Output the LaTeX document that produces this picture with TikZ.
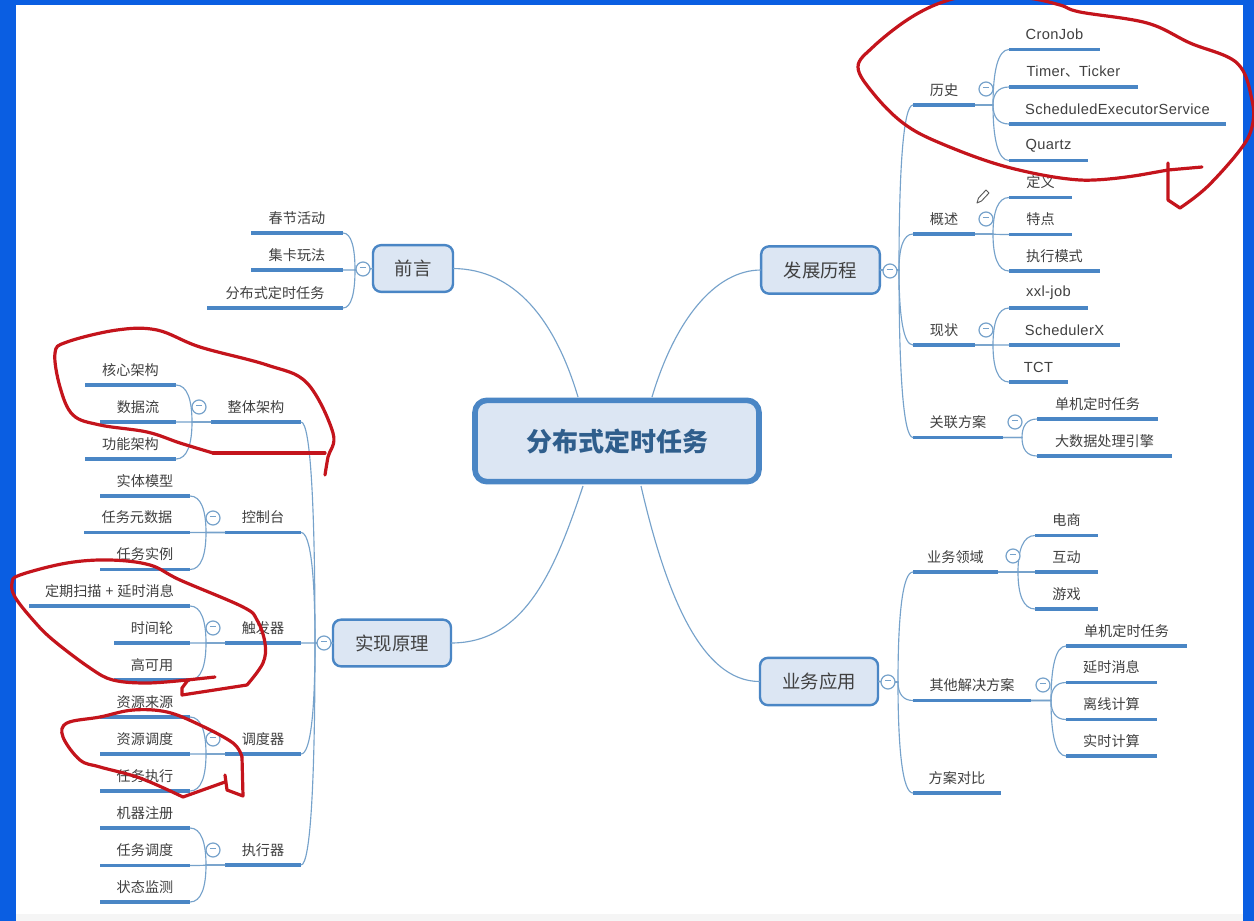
\documentclass[tikz,border=0pt]{standalone}
\usepackage{fontspec}
\setmainfont{Liberation Sans}
\newfontfamily\cjk{Noto Sans CJK SC}
\newfontfamily\latn[LetterSpace=2.5]{Liberation Sans}
\usetikzlibrary{calc}
\definecolor{frameblue}{HTML}{0A5EE2}
\definecolor{lineblue}{HTML}{4A86C5}
\definecolor{connblue}{HTML}{76A2CB}
\definecolor{boxfill}{HTML}{DCE6F3}
\definecolor{txtgray}{HTML}{404040}
\definecolor{titleblue}{HTML}{2F5E8C}
\definecolor{penred}{HTML}{C4141C}
\tikzset{
  x=0.75pt,y=-0.75pt,
  leafnode/.style={inner sep=0pt,outer sep=0pt,minimum height=22.5pt,text=txtgray,font=\fontsize{10.6}{12}\selectfont\cjk},
  uline/.style={draw=lineblue,line width=2.4pt},
  conn/.style={draw=connblue,line width=0.85pt},
  topicbox/.style={draw=lineblue,line width=1.8pt,fill=boxfill,rounded corners=6pt,inner sep=0pt,outer sep=0pt,text=txtgray,font=\fontsize{13.8}{15}\selectfont\cjk},
  rootbox/.style={draw=lineblue,line width=4.2pt,fill=boxfill,rounded corners=9pt,inner sep=0pt,outer sep=0pt,text=titleblue,font=\fontsize{19.5}{22}\selectfont\cjk\bfseries},
  collapse/.style={circle,draw=connblue,line width=0.9pt,fill=white,minimum size=10.5pt,inner sep=0pt,outer sep=0pt},
  penstroke/.style={draw=penred,line width=2.4pt,line join=round,line cap=round},
}
\newcommand\lt[1]{{\fontsize{11}{12}\selectfont\latn #1}}
\newcommand\leaf[5]{%
  \node[leafnode,anchor=south,minimum width={(#3-#2)*0.75pt}] (#1) at ({(#2+#3)/2},#4) {#5\hspace{2.25pt}};
  \draw[uline] (#1.south west) -- (#1.south east);}
\newcommand\fork[3]{\draw[conn] (#1) -- (#2) .. controls ($(#2)!0.6!(#2|-#3)$) and ($(#2|-#3)!0.3!(#3)$) .. (#3);}
\newcommand\minusmark{\textcolor{connblue}{\rule[1.9pt]{4.8pt}{0.75pt}}}
\begin{document}
\begin{tikzpicture}
\useasboundingbox (0,0) rectangle (1254,921);
\fill[white] (0,0) rectangle (1254,921);
\fill[black!4] (0,914) rectangle (1254,921);
\fill[frameblue] (0,0) rectangle (1254,5);
\fill[frameblue] (0,0) rectangle (16,921);
\fill[frameblue] (1243,0) rectangle (1254,921);

% topic boxes
\node[rootbox,minimum width=213pt,minimum height=61pt] (root) at (617,441) {分布式定时任务};
\node[topicbox,minimum width=89pt,minimum height=35.5pt] (fazhan) at (820.5,270) {发展历程};
\node[topicbox,minimum width=88.5pt,minimum height=35.5pt] (yewu) at (819,681.5) {业务应用};
\node[topicbox,minimum width=60pt,minimum height=35pt] (qianyan) at (413,268.5) {前言};
\node[topicbox,minimum width=88.5pt,minimum height=35pt] (shixian) at (392,643) {实现原理};

% main connectors
\coordinate (rootTL) at (578,397);
\coordinate (rootTR) at (652,397);
\coordinate (rootBL) at (583,486);
\coordinate (rootBR) at (641,486);
\draw[conn] (rootTL) .. controls (555,320) and (515,269) .. (qianyan.east);
\draw[conn] (rootTR) .. controls (675,320) and (715,270) .. (fazhan.west);
\draw[conn] (rootBL) .. controls (555,570) and (525,643) .. (shixian.east);
\draw[conn] (rootBR) .. controls (665,590) and (700,682) .. (yewu.west);

% --- upper right
\leaf{lishi}{913}{975}{105}{历史}
\leaf{gaishu}{913}{975}{234}{概述}
\leaf{xianzhuang}{913}{975}{345}{现状}
\leaf{guanlian}{913}{1003}{437.5}{关联方案}
\leaf{cron}{1009}{1100}{49.5}{\lt{CronJob}}
\leaf{timer}{1009}{1138}{87}{\lt{Timer}{\cjk 、}\lt{Ticker}}
\leaf{sched}{1009}{1226}{124}{\lt{ScheduledExecutorService}}
\leaf{quartz}{1009}{1088}{160.5}{\lt{Quartz}}
\leaf{dingyi}{1009}{1072}{197.5}{定义}
\leaf{tedian}{1009}{1072}{234.5}{特点}
\leaf{zhixing}{1009}{1100}{271}{执行模式}
\leaf{xxl}{1009}{1088}{308}{\lt{xxl-job}}
\leaf{schedx}{1009}{1120}{345}{\lt{SchedulerX}}
\leaf{tct}{1009}{1068}{382}{\lt{TCT}}
\leaf{danji}{1037}{1158}{419}{单机定时任务}
\leaf{dashuju}{1037}{1172}{456}{大数据处理引擎}

\coordinate (fFazhan) at (899,270);
\foreach \c in {lishi,gaishu,xianzhuang,guanlian}{\fork{fazhan.east}{fFazhan}{\c.south west}}
\coordinate (fLishi) at (993,105);
\foreach \c in {cron,timer,sched,quartz}{\fork{lishi.south east}{fLishi}{\c.south west}}
\coordinate (fGaishu) at (993,234);
\foreach \c in {dingyi,tedian,zhixing}{\fork{gaishu.south east}{fGaishu}{\c.south west}}
\coordinate (fXian) at (993,345);
\foreach \c in {xxl,schedx,tct}{\fork{xianzhuang.south east}{fXian}{\c.south west}}
\coordinate (fGuan) at (1022,437.5);
\foreach \c in {danji,dashuju}{\fork{guanlian.south east}{fGuan}{\c.south west}}
\node[collapse] (cFazhan) at (890,271) {\minusmark};
\node[collapse] (cLishi) at (986,89) {\minusmark};
\node[collapse] (cGaishu) at (986,219) {\minusmark};
\node[collapse] (cXian) at (986,330) {\minusmark};
\node[collapse] (cGuan) at (1015,422) {\minusmark};

% pencil icon
\draw[draw=black!65,line width=0.7pt,line join=round] (977,203) -- (978.5,198) -- (986,190) -- (989,193) -- (981.5,201) -- cycle;

% --- lower right
\leaf{lingyu}{913}{998}{572}{业务领域}
\leaf{qita}{913}{1031}{700.5}{其他解决方案}
\leaf{duibi}{913}{1001}{793}{方案对比}
\leaf{dianshang}{1035}{1098}{535.5}{电商}
\leaf{hudong}{1035}{1098}{572}{互动}
\leaf{youxi}{1035}{1098}{609}{游戏}
\leaf{danjib}{1066}{1187}{646}{单机定时任务}
\leaf{yanshi}{1066}{1157}{682.5}{延时消息}
\leaf{lixian}{1066}{1157}{719.5}{离线计算}
\leaf{shishi}{1066}{1157}{756}{实时计算}
\coordinate (fYewu) at (898,682);
\foreach \c in {lingyu,qita,duibi}{\fork{yewu.east}{fYewu}{\c.south west}}
\coordinate (fLingyu) at (1018,572);
\foreach \c in {dianshang,hudong,youxi}{\fork{lingyu.south east}{fLingyu}{\c.south west}}
\coordinate (fQita) at (1051,700.5);
\foreach \c in {danjib,yanshi,lixian,shishi}{\fork{qita.south east}{fQita}{\c.south west}}
\node[collapse] (cYewu) at (888,682) {\minusmark};
\node[collapse] (cLingyu) at (1013,556) {\minusmark};
\node[collapse] (cQita) at (1043,685) {\minusmark};

% --- upper left
\leaf{chunjie}{251}{343}{233}{春节活动}
\leaf{jika}{251}{343}{270}{集卡玩法}
\leaf{fenbu}{207}{343}{308}{分布式定时任务}
\coordinate (fQian) at (355,270);
\foreach \c in {chunjie,jika,fenbu}{\fork{qianyan.west}{fQian}{\c.south east}}
\node[collapse] (cQian) at (363,269) {\minusmark};

% --- lower left
\leaf{zhengti}{211}{301}{422}{整体架构}
\leaf{kongzhi}{225}{301}{532.5}{控制台}
\leaf{chufa}{225}{301}{643}{触发器}
\leaf{diaodu}{225}{301}{754}{调度器}
\leaf{zhixingqi}{225}{301}{865}{执行器}
\leaf{hexin}{85}{176}{385}{核心架构}
\leaf{shuju}{100}{176}{422}{数据流}
\leaf{gongneng}{85}{176}{459}{功能架构}
\leaf{shiti}{100}{190}{496}{实体模型}
\leaf{yuan}{84}{190}{532.5}{任务元数据}
\leaf{shili}{100}{190}{569.5}{任务实例}
\leaf{dingqi}{29}{190}{606}{定期扫描\hspace{3pt}+\hspace{3pt}延时消息}
\leaf{shijian}{114}{190}{643}{时间轮}
\leaf{gaoke}{114}{190}{680}{高可用}
\leaf{laiyuan}{100}{190}{717}{资源来源}
\leaf{ziyuan}{100}{190}{754}{资源调度}
\leaf{renwu}{100}{190}{791}{任务执行}
\leaf{jiqi}{100}{190}{828}{机器注册}
\leaf{rwdd}{100}{190}{865.5}{任务调度}
\leaf{zhuangtai}{100}{190}{902}{状态监测}
\coordinate (fShixian) at (315,643);
\foreach \c in {zhengti,kongzhi,chufa,diaodu,zhixingqi}{\fork{shixian.west}{fShixian}{\c.south east}}
\coordinate (fZheng) at (192,422);
\foreach \c in {hexin,shuju,gongneng}{\fork{zhengti.south west}{fZheng}{\c.south east}}
\coordinate (fKong) at (206,532.5);
\foreach \c in {shiti,yuan,shili}{\fork{kongzhi.south west}{fKong}{\c.south east}}
\coordinate (fChu) at (206,643);
\foreach \c in {dingqi,shijian,gaoke}{\fork{chufa.south west}{fChu}{\c.south east}}
\coordinate (fDiao) at (206,754);
\foreach \c in {laiyuan,ziyuan,renwu}{\fork{diaodu.south west}{fDiao}{\c.south east}}
\coordinate (fZhi) at (206,865);
\foreach \c in {jiqi,rwdd,zhuangtai}{\fork{zhixingqi.south west}{fZhi}{\c.south east}}
\node[collapse] (cShixian) at (324,643) {\minusmark};
\node[collapse] (cZheng) at (199,407) {\minusmark};
\node[collapse] (cKong) at (213,518) {\minusmark};
\node[collapse] (cChu) at (213,628) {\minusmark};
\node[collapse] (cDiao) at (213,739) {\minusmark};
\node[collapse] (cZhi) at (213,850) {\minusmark};

% red pen strokes
\draw[penstroke] (1202,167) -- (1168,170) -- (1140,175);
\draw[penstroke] plot[smooth,tension=0.6] coordinates {(1140,175) (1080,180) (1007,167) (940,143) (903,123) (873,93) (858,67) (873,47) (907,20) (940,3) (973,-4) (1027,-2) (1060,5) (1080,12) (1147,23) (1190,43) (1237,63) (1252,100) (1252,127) (1240,150) (1207,187) (1180,208)};
\draw[penstroke] (1180,208) -- (1168,200) -- (1168,163);
\draw[penstroke] (325,453) -- (213,453);
\draw[penstroke] plot[smooth,tension=0.6] coordinates {(213,453) (180,443) (147,432) (100,425) (73,415) (60,387) (55,353) (67,342) (117,330) (157,330) (200,347) (267,365) (307,383) (333,433) (328,457) (325,475)};
\draw[penstroke] (215,677) -- (187,680);
\draw[penstroke] plot[smooth,tension=0.6] coordinates {(187,680) (147,683) (113,680) (90,668) (53,640) (33,620) (15,597) (12,583) (20,575) (67,563) (110,560) (150,565) (180,580) (243,607) (257,620) (265,643) (263,663) (247,685)};
\draw[penstroke] (247,685) -- (182,695) -- (182,688) -- (188,680);
\draw[penstroke] (225,775) -- (227,790) -- (243,796) -- (242,757);
\draw[penstroke] plot[smooth,tension=0.6] coordinates {(242,757) (233,743) (200,725) (167,712) (133,710) (100,717) (67,723) (63,737) (80,760) (100,767) (140,778) (183,797)};
\draw[penstroke] (183,797) -- (225,782);
\end{tikzpicture}
\end{document}
